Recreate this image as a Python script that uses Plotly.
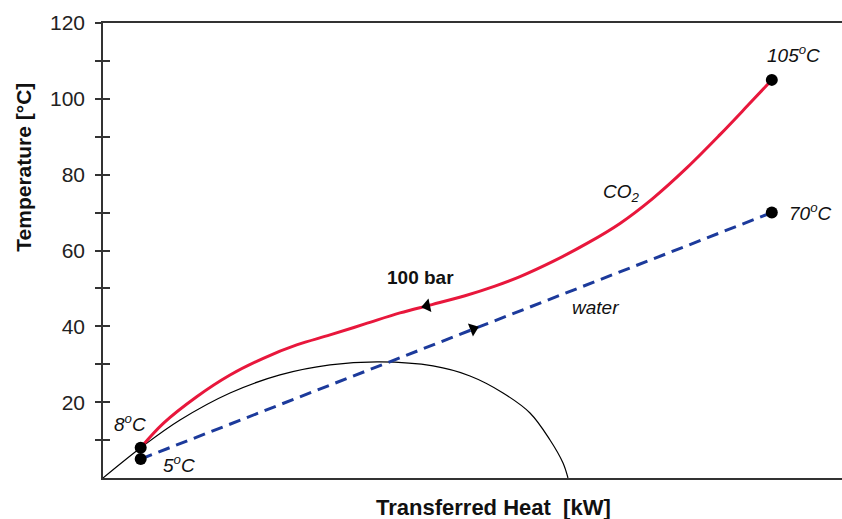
import plotly.graph_objects as go

# ---- data (x: transferred heat, arbitrary units 0-100; y: temperature in °C) ----
co2_heat = [5.1, 8.16, 12.68, 17.19, 21.69, 26.21, 30.72, 35.45, 40.19, 44.52, 48.99,
            53.04, 56.43, 60.89, 65.49, 69.96, 74.42, 79.03, 83.49, 87.14, 90.5]
co2_temp = [8.0, 14.43, 21.45, 27.18, 31.58, 35.09, 37.73, 40.63, 43.54, 45.73, 48.07,
            50.61, 53.11, 57.12, 61.87, 67.15, 73.77, 81.85, 90.55, 98.02, 105.0]

water_heat = [5.1, 90.5]
water_temp = [5.0, 70.0]

dome_heat = [0.0, 5.41, 10.42, 17.19, 23.95, 30.72, 37.48, 44.65, 49.66, 54.13, 57.78, 60.49, 62.25, 62.92]
dome_temp = [0.0, 8.44, 15.30, 22.43, 27.18, 29.82, 30.61, 29.55, 26.91, 22.43, 17.15, 10.03, 3.96, 0.0]

point_heat = [5.1, 5.1, 90.5, 90.5]
point_temp = [8.0, 5.0, 105.0, 70.0]

arrow_co2 = (43.84, 45.39)
arrow_water = (50.1, 39.3)

y_tickvals = [10, 20, 30, 40, 50, 60, 70, 80, 90, 100, 110, 120]
y_ticktext = ["", "20", "", "40", "", "60", "", "80", "", "100", "", "120"]

FONT = "Liberation Sans, Arial, sans-serif"

fig = go.Figure()

fig.add_trace(go.Scatter(x=dome_heat, y=dome_temp, mode="lines",
                         line=dict(color="black", width=1.2, shape="spline", smoothing=1.0),
                         showlegend=False, hoverinfo="skip"))
fig.add_trace(go.Scatter(x=water_heat, y=water_temp, mode="lines",
                         line=dict(color="#1c3a9b", width=3, dash="12px,7px"),
                         showlegend=False))
fig.add_trace(go.Scatter(x=co2_heat, y=co2_temp, mode="lines",
                         line=dict(color="#e8173c", width=3, shape="spline", smoothing=1.0),
                         showlegend=False))
fig.add_trace(go.Scatter(x=[arrow_co2[0]], y=[arrow_co2[1]], mode="markers",
                         marker=dict(symbol="triangle-left", size=12, color="black", angle=-12),
                         showlegend=False))
fig.add_trace(go.Scatter(x=[arrow_water[0]], y=[arrow_water[1]], mode="markers",
                         marker=dict(symbol="triangle-right", size=12, color="black", angle=-21),
                         showlegend=False))
fig.add_trace(go.Scatter(x=point_heat, y=point_temp, mode="markers",
                         marker=dict(size=12, color="black"), showlegend=False))
# helper trace for the inside half of the y ticks
fig.add_trace(go.Scatter(x=[None], y=[None], yaxis="y2", showlegend=False, hoverinfo="skip"))

ann = []
def label(x, y, text, size=19, italic=True, bold=False):
    t = text
    if italic:
        t = "<i>" + t + "</i>"
    if bold:
        t = "<b>" + t + "</b>"
    ann.append(dict(x=x, y=y, xref="x", yref="y", text=t, showarrow=False,
                    font=dict(family=FONT, size=size, color="#111"),
                    xanchor="center", yanchor="middle"))

label(3.65, 14.5, "8<sup>o</sup>C")
label(10.3, 3.7, "5<sup>o</sup>C")
label(93.5, 111.9, "105<sup>o</sup>C")
label(95.7, 70.2, "70<sup>o</sup>C")
label(70.2, 75.2, "CO<sub>2</sub>")
label(43.0, 52.8, "100 bar", italic=False, bold=True)
label(66.7, 45.1, "water")

ann.append(dict(x=0.528, y=-0.064, xref="paper", yref="paper",
                text="<b>Transferred Heat\u00a0 [kW]</b>", showarrow=False,
                font=dict(family=FONT, size=22, color="#111"),
                xanchor="center", yanchor="middle"))
ann.append(dict(x=-0.107, y=0.684, xref="paper", yref="paper",
                text="<b>Temperature [°C]</b>", showarrow=False, textangle=-90,
                font=dict(family=FONT, size=21, color="#111"),
                xanchor="center", yanchor="middle"))

fig.update_layout(
    width=842, height=519,
    margin=dict(l=103, r=0, t=23, b=41),
    paper_bgcolor="white", plot_bgcolor="white",
    annotations=ann,
    xaxis=dict(range=[0, 100], showgrid=False, zeroline=False, showticklabels=False,
               ticks="", showline=True, linecolor="#333", linewidth=2, mirror=True),
    yaxis=dict(range=[0, 120], showgrid=False, zeroline=False,
               tickvals=y_tickvals, ticktext=y_ticktext,
               ticks="outside", ticklen=6, tickwidth=1.5, tickcolor="#333",
               ticklabelstandoff=6,
               tickfont=dict(family=FONT, size=21, color="#222"),
               showline=True, linecolor="#333", linewidth=1.5),
    yaxis2=dict(range=[0, 120], overlaying="y", side="left", showgrid=False, zeroline=False,
                tickvals=y_tickvals, ticks="inside", ticklen=7, tickwidth=1.5,
                tickcolor="#333", showticklabels=False, showline=False),
    showlegend=False,
)

fig.write_html("out.html")
